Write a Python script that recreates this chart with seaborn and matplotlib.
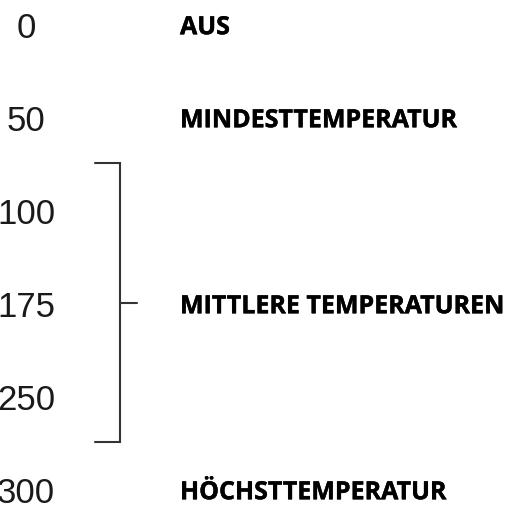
import matplotlib.pyplot as plt
import matplotlib.patheffects as pe
import seaborn as sns

# Temperaturstufen des Reglers und zugehoerige Bezeichnungen
temps = ["0", "50", "100", "175", "250", "300"]
settings = ["AUS", "MINDESTTEMPERATUR", None, "MITTLERE TEMPERATUREN", None, "HÖCHSTTEMPERATUR"]
# Bereich der mittleren Temperaturen (Klammer)
mid_range = ["100", "250"]

sns.set_theme(style="white")
plt.rcParams["font.family"] = ["Liberation Sans", "DejaVu Sans"]

fig = plt.figure(figsize=(5.18, 5.06), dpi=100)
ax = fig.add_axes([0, 0, 1, 1])
ax.set_xlim(0, 518)
ax.set_ylim(5.032, -0.409)
ax.axis("off")

cap_mid = 0.145  # halbe Zeichenhoehe in Zeilen-Einheiten
line_col = "#333333"

for i, t in enumerate(temps):
    ax.text(26, i, t, ha="center", va="baseline", fontsize=25,
            color="#1a1a1a", family=["Liberation Sans", "DejaVu Sans"])
    if settings[i]:
        ax.text(180, i - 0.03, settings[i], ha="left", va="baseline", fontsize=18,
                fontweight="bold", color="black", family=["Open Sans", "DejaVu Sans"],
                path_effects=[pe.withStroke(linewidth=0.3, foreground="black")])

# Klammer ueber die mittleren Temperaturen
i0 = temps.index(mid_range[0]) - cap_mid - 0.5
i1 = temps.index(mid_range[1]) - cap_mid + 0.5
imid = settings.index("MITTLERE TEMPERATUREN") - cap_mid
ax.plot([95, 120, 120, 95], [i0, i0, i1, i1], color=line_col, lw=1.5,
        solid_joinstyle="miter")
ax.plot([120, 137], [imid, imid], color=line_col, lw=1.5)

fig.savefig("out.png", dpi=100, facecolor="white")
